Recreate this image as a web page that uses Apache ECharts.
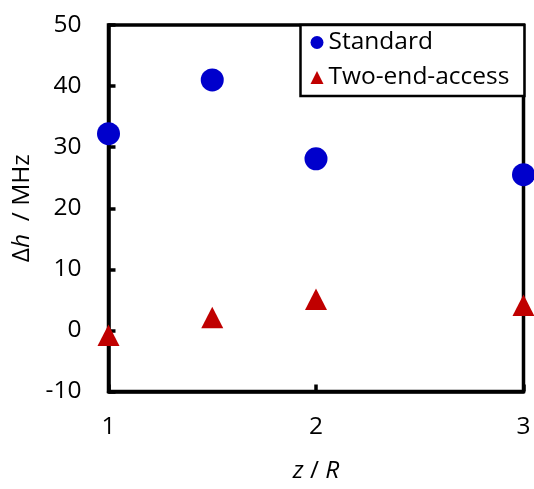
<!DOCTYPE html>
<html>
<head>
<meta charset="utf-8">
<script src="https://cdn.jsdelivr.net/npm/echarts@6/dist/echarts.min.js"></script>
<style>
html,body{margin:0;padding:0;background:#fff;}
#chart{width:534px;height:489px;}
</style>
</head>
<body>
<div id="chart"></div>
<script>
// Data
const xValues = [1, 1.5, 2, 3];
const standardValues = [32.2, 41.0, 28.1, 25.5];
const twoEndValues = [-0.8, 2.1, 5.1, 4.1];
const seriesNames = ['Standard', 'Two-end-access'];
const xTicks = [1, 2, 3];
const yTicks = [-10, 0, 10, 20, 30, 40, 50];

const FONT = '"Open Sans", sans-serif';
const FS = 24.5;
const LH = 24;

const chart = echarts.init(document.getElementById('chart'), null, {renderer: 'canvas'});

function pairs(xs, ys) { return xs.map((x, i) => [x, ys[i]]); }

const option = {
  backgroundColor: '#fff',
  animation: false,
  textStyle: {fontFamily: FONT},
  grid: {
    left: 108.5, right: 10.5, top: 25, bottom: 96,
    show: true, borderColor: '#000', borderWidth: 3.5, backgroundColor: 'transparent'
  },
  legend: {
    orient: 'vertical',
    left: 300.5, top: 25,
    padding: [5, 15, 6, 10],
    itemGap: 10,
    itemWidth: 13, itemHeight: 13,
    itemTextGap: 10,
    borderColor: '#000', borderWidth: 2.5,
    backgroundColor: '#fff',
    textStyle: {fontFamily: FONT, fontSize: FS, color: '#000', lineHeight: LH},
    data: [
      {name: seriesNames[0], icon: 'circle'},
      {name: seriesNames[1], icon: 'triangle'}
    ]
  },
  xAxis: {
    type: 'value',
    min: xTicks[0], max: xTicks[xTicks.length - 1], interval: 1,
    name: '{i|z}{n| / }{i|R}',
    nameLocation: 'middle',
    nameGap: 68,
    nameTextStyle: {
      rich: {
        i: {fontFamily: FONT, fontSize: FS, fontStyle: 'italic', color: '#000', lineHeight: LH},
        n: {fontFamily: FONT, fontSize: FS, color: '#000', lineHeight: LH}
      }
    },
    axisLine: {show: true, onZero: false, lineStyle: {color: '#000', width: 3.5}},
    axisTick: {show: true, inside: true, length: 7, lineStyle: {color: '#000', width: 3.5}},
    axisLabel: {fontFamily: FONT, fontSize: FS, color: '#000', margin: 24, lineHeight: LH,
      formatter: v => String(v)},
    splitLine: {show: false}
  },
  yAxis: {
    type: 'value',
    min: yTicks[0], max: yTicks[yTicks.length - 1], interval: 10,
    name: '{n|Δ}{i|h}{n|  / MHz}',
    nameLocation: 'middle',
    nameGap: 72,
    nameRotate: 90,
    nameTextStyle: {
      rich: {
        i: {fontFamily: FONT, fontSize: FS, fontStyle: 'italic', color: '#000', lineHeight: LH},
        n: {fontFamily: FONT, fontSize: FS, color: '#000', lineHeight: LH}
      }
    },
    axisLine: {show: true, onZero: false, lineStyle: {color: '#000', width: 3.5}},
    axisTick: {show: true, inside: true, length: 7, lineStyle: {color: '#000', width: 3.5}},
    axisLabel: {fontFamily: FONT, fontSize: FS, color: '#000', margin: 27, lineHeight: LH},
    splitLine: {show: false}
  },
  series: [
    {
      name: seriesNames[0], type: 'scatter', symbol: 'circle', symbolSize: 23,
      clip: false, itemStyle: {color: '#0000CC', opacity: 1},
      data: pairs(xValues, standardValues)
    },
    {
      name: seriesNames[1], type: 'scatter', symbol: 'triangle', symbolSize: [22, 21.5],
      clip: false, itemStyle: {color: '#C00000', opacity: 1},
      data: pairs(xValues, twoEndValues)
    }
  ]
};
chart.setOption(option);
</script>
</body>
</html>
